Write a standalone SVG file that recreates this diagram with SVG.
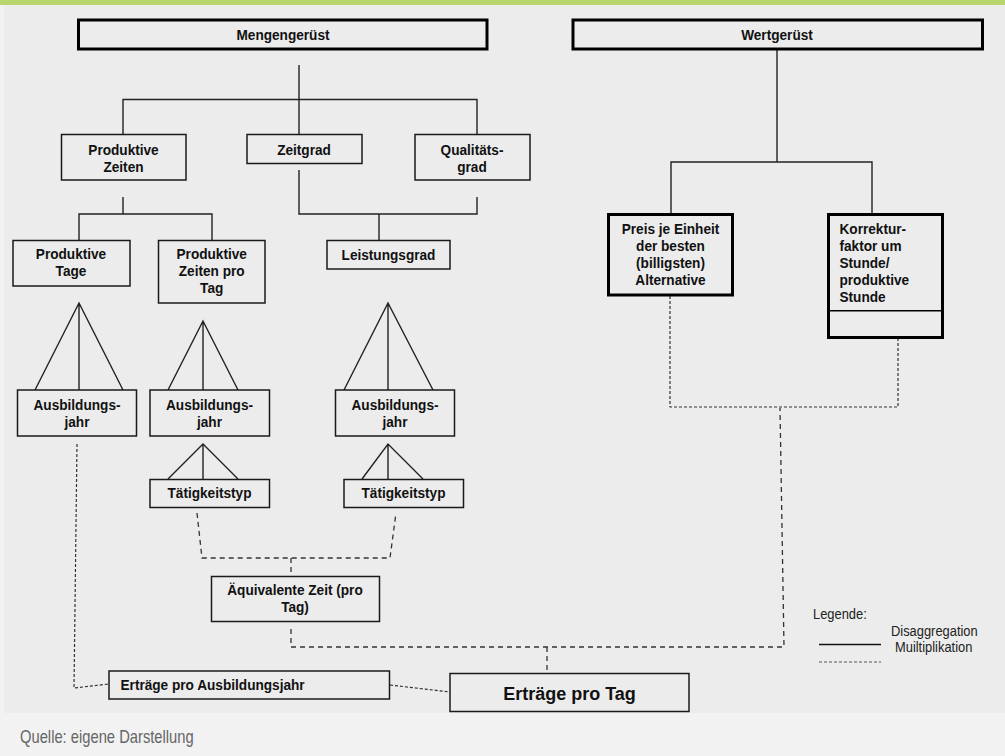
<svg xmlns="http://www.w3.org/2000/svg" width="1005" height="756" viewBox="0 0 1005 756">
<style>
.n{fill:#ececec;stroke:#1a1a1a;stroke-width:1.5}
.nb{fill:#ececec;stroke:#000;stroke-width:3}
.t{font-family:"Liberation Sans",Arial,sans-serif;font-weight:bold;font-size:15.5px;fill:#111;text-anchor:middle}
.tl{text-anchor:start}
.s{fill:none;stroke:#222;stroke-width:1.4}
.d1{fill:none;stroke:#333;stroke-width:1.2;stroke-dasharray:3 2}
.d2{fill:none;stroke:#333;stroke-width:1.3;stroke-dasharray:5 4}
.lg{font-family:"Liberation Sans",Arial,sans-serif;font-size:15px;fill:#222}
</style>
<rect x="0" y="0" width="1005" height="756" fill="#f2f2f2"/>
<rect x="4" y="5" width="1001" height="708" fill="#ececec"/>
<rect x="0" y="0" width="1005" height="5" fill="#bad46e"/>

<g id="connectors">
<path class="s" d="M299,65 V134 M123,134 V99.5 H477 V134"/>
<path class="s" d="M123,197 V214 M79,240 V214 H212 V240"/>
<path class="s" d="M299,170 V214 H477 V197 M379,214 V240"/>
<path class="s" d="M777,49 V162 M671,214 V162 H872 V214"/>
<path class="s" d="M35,390 L79,303 L123,390 M79,303 V390"/>
<path class="s" d="M168,390 L203,321 L238,390 M203,321 V390"/>
<path class="s" d="M344,390 L388,303 L433,390 M388,303 V390"/>
<path class="s" d="M168,479 L203,444 L238,479 M203,444 V479"/>
<path class="s" d="M362,479 L388,444 L423,479 M388,444 V479"/>
<path class="d1" d="M77,444 L74,688 L109,684"/>
<path class="d1" d="M390,685 L450,692"/>
<path class="d1" d="M670,296 V407 H898 V339"/>
<path class="d2" d="M197,513 L202,558 H390 L396,513 M291,558 V576"/>
<path class="d2" d="M291,629 V647 H784 L780,408 M547,647 V673"/>
</g>

<g id="mengengeruest"><rect class="nb" x="78.5" y="20" width="408.5" height="29"/><text class="t" transform="translate(283,40) scale(0.88,1)">Mengengerüst</text></g>
<g id="wertgeruest"><rect class="nb" x="573" y="20" width="409.5" height="29"/><text class="t" transform="translate(777,40) scale(0.88,1)">Wertgerüst</text></g>
<g id="produktive-zeiten"><rect class="n" x="61.5" y="134.5" width="124.5" height="45.5"/><text class="t" transform="translate(123.5,155) scale(0.88,1)">Produktive</text><text class="t" transform="translate(123.5,172) scale(0.88,1)">Zeiten</text></g>
<g id="zeitgrad"><rect class="n" x="247" y="134.5" width="115" height="29"/><text class="t" transform="translate(304,154.5) scale(0.88,1)">Zeitgrad</text></g>
<g id="qualitaetsgrad"><rect class="n" x="415" y="134.5" width="115" height="45.5"/><text class="t" transform="translate(472,155) scale(0.88,1)">Qualitäts-</text><text class="t" transform="translate(472,172) scale(0.88,1)">grad</text></g>
<g id="produktive-tage"><rect class="n" x="13" y="240.5" width="117" height="45.5"/><text class="t" transform="translate(71,259) scale(0.88,1)">Produktive</text><text class="t" transform="translate(71,276) scale(0.88,1)">Tage</text></g>
<g id="produktive-zeiten-pro-tag"><rect class="n" x="158.5" y="240.5" width="106.5" height="62.5"/><text class="t" transform="translate(211.7,259) scale(0.88,1)">Produktive</text><text class="t" transform="translate(211.7,276) scale(0.88,1)">Zeiten pro</text><text class="t" transform="translate(211.7,293) scale(0.88,1)">Tag</text></g>
<g id="leistungsgrad"><rect class="n" x="327" y="240.5" width="123" height="28.5"/><text class="t" transform="translate(388.5,260) scale(0.88,1)">Leistungsgrad</text></g>
<g id="ausbildungsjahr-1"><rect class="n" x="17.5" y="390" width="119" height="46"/><text class="t" transform="translate(77,409.5) scale(0.88,1)">Ausbildungs-</text><text class="t" transform="translate(77,426.5) scale(0.88,1)">jahr</text></g>
<g id="ausbildungsjahr-2"><rect class="n" x="150" y="390" width="119.5" height="46"/><text class="t" transform="translate(209.5,409.5) scale(0.88,1)">Ausbildungs-</text><text class="t" transform="translate(209.5,426.5) scale(0.88,1)">jahr</text></g>
<g id="ausbildungsjahr-3"><rect class="n" x="335.5" y="390" width="119" height="46"/><text class="t" transform="translate(395,409.5) scale(0.88,1)">Ausbildungs-</text><text class="t" transform="translate(395,426.5) scale(0.88,1)">jahr</text></g>
<g id="taetigkeitstyp-1"><rect class="n" x="150" y="479.5" width="119.5" height="28"/><text class="t" transform="translate(209.5,497.5) scale(0.88,1)">Tätigkeitstyp</text></g>
<g id="taetigkeitstyp-2"><rect class="n" x="344" y="479.5" width="119.5" height="28"/><text class="t" transform="translate(403.5,497.5) scale(0.88,1)">Tätigkeitstyp</text></g>
<g id="aequivalente-zeit"><rect class="n" x="211.5" y="576.5" width="168" height="45"/><text class="t" transform="translate(295,595) scale(0.88,1)">Äquivalente Zeit (pro</text><text class="t" transform="translate(295,612) scale(0.88,1)">Tag)</text></g>
<g id="ertraege-ausbildungsjahr"><rect class="n" x="109" y="671" width="280.5" height="28"/><text class="t tl" transform="translate(120.5,690) scale(0.88,1)">Erträge pro Ausbildungsjahr</text></g>
<g id="ertraege-tag"><rect class="n" x="450" y="673.5" width="239" height="38"/><text class="t" x="569.5" y="699.5" style="font-family:'Liberation Sans',Arial,sans-serif;font-size:18px">Erträge pro Tag</text></g>
<g id="preis"><rect class="nb" x="608.5" y="214.5" width="124" height="80.5"/><text class="t" transform="translate(670.5,234) scale(0.88,1)">Preis je Einheit</text><text class="t" transform="translate(670.5,251) scale(0.88,1)">der besten</text><text class="t" transform="translate(670.5,268) scale(0.88,1)">(billigsten)</text><text class="t" transform="translate(670.5,285) scale(0.88,1)">Alternative</text></g>
<g id="korrektur"><rect class="nb" x="828.5" y="214.5" width="114" height="123"/><line x1="828.5" y1="310.7" x2="942.5" y2="310.7" stroke="#000" stroke-width="1.5"/><text class="t tl" transform="translate(839.5,234) scale(0.88,1)">Korrektur-</text><text class="t tl" transform="translate(839.5,251) scale(0.88,1)">faktor um</text><text class="t tl" transform="translate(839.5,268) scale(0.88,1)">Stunde/</text><text class="t tl" transform="translate(839.5,285) scale(0.88,1)">produktive</text><text class="t tl" transform="translate(839.5,302) scale(0.88,1)">Stunde</text></g>

<g id="legende">
<text class="lg" transform="translate(813,619) scale(0.86,1)">Legende:</text>
<text class="lg" transform="translate(891,636) scale(0.86,1)">Disaggregation</text>
<text class="lg" transform="translate(895,652) scale(0.86,1)">Muiltiplikation</text>
<line x1="819" y1="644.5" x2="881" y2="644.5" stroke="#111" stroke-width="1.3"/>
<line x1="819" y1="662" x2="881" y2="662" stroke="#555" stroke-width="1" stroke-dasharray="3 2"/>
</g>
<text transform="translate(20,743) scale(0.82,1)" style="font-family:'Liberation Sans',Arial,sans-serif;font-size:18px;fill:#666">Quelle: eigene Darstellung</text>
</svg>
